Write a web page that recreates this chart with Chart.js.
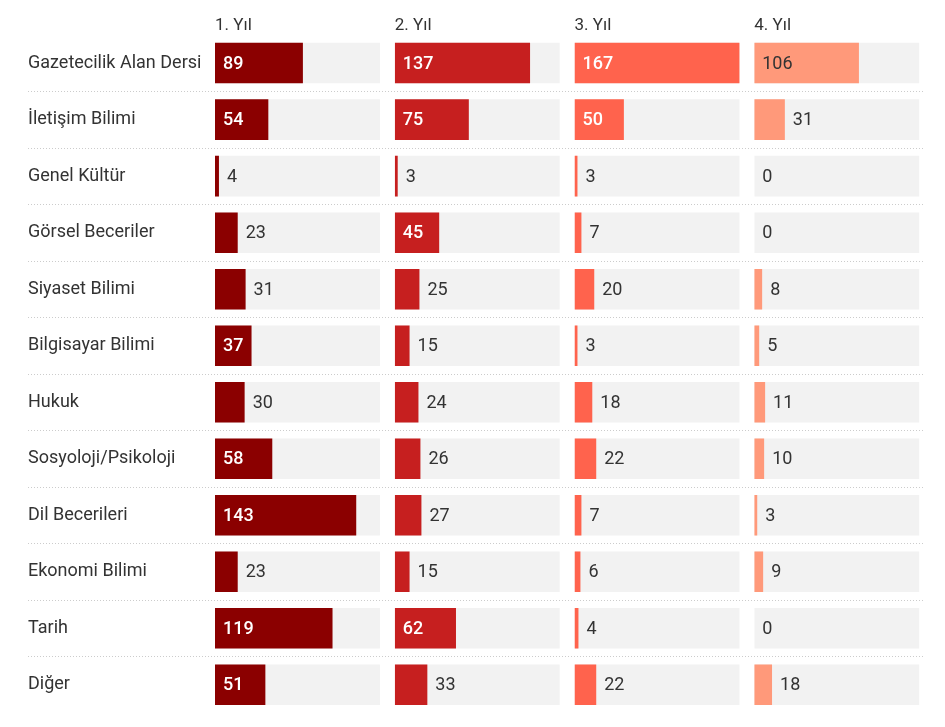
<!DOCTYPE html>
<html>
<head>
<meta charset="utf-8">
<script src="https://cdn.jsdelivr.net/npm/chart.js@4/dist/chart.umd.min.js"></script>
<style>
  html, body { margin: 0; padding: 0; background: #fff; }
  #wrap { width: 945px; height: 727px; }
</style>
</head>
<body>
<div id="wrap"><canvas id="chart"></canvas></div>
<script>
const categories = ['Gazetecilik Alan Dersi', 'İletişim Bilimi', 'Genel Kültür', 'Görsel Beceriler', 'Siyaset Bilimi', 'Bilgisayar Bilimi', 'Hukuk', 'Sosyoloji/Psikoloji', 'Dil Becerileri', 'Ekonomi Bilimi', 'Tarih', 'Diğer'];
const years = ['1. Yıl', '2. Yıl', '3. Yıl', '4. Yıl'];
const year1 = [89, 54, 4, 23, 31, 37, 30, 58, 143, 23, 119, 51];
const year2 = [137, 75, 3, 45, 25, 15, 24, 26, 27, 15, 62, 33];
const year3 = [167, 50, 3, 7, 20, 3, 18, 22, 7, 6, 4, 22];
const year4 = [106, 31, 0, 0, 8, 5, 11, 10, 3, 9, 0, 18];

const series = [year1, year2, year3, year4];
const colors = ['#8b0000', '#c61f1f', '#ff634d', '#ff997a'];
const insideColors = ['#fff', '#fff', '#fff', '#333'];
const fullValue = Math.max(...series.flat());

Chart.defaults.font.family = 'Roboto';
Chart.defaults.color = '#333';

const datasets = [];
series.forEach((vals, i) => {
  datasets.push({
    data: vals,
    xAxisID: 'x' + (i + 1),
    backgroundColor: colors[i],
    labelInside: insideColors[i],
    isValue: true,
    order: 1
  });
  datasets.push({
    data: categories.map(() => fullValue),
    xAxisID: 'x' + (i + 1),
    backgroundColor: '#f2f2f2',
    order: 2
  });
});

const scales = {
  y: {
    type: 'category',
    position: 'left',
    grid: { display: false },
    border: { display: false },
    ticks: { crossAlign: 'far', color: '#333', font: { size: 18 } },
    afterFit(scale) { scale.width = 187; }
  }
};
// stacked top axes are laid out last-first, so add them in reverse
for (let i = years.length - 1; i >= 0; i--) {
  scales['x' + (i + 1)] = {
    type: 'linear',
    axis: 'x',
    position: 'top',
    stack: 'cols',
    min: 0,
    max: 182,
    grid: { display: false, drawTicks: false },
    border: { display: false },
    ticks: { display: false },
    title: { display: true, text: years[i], align: 'start', color: '#333', font: { size: 17, lineHeight: 1.05 }, padding: { top: 17, bottom: 0 } }
  };
}

// dotted separators between rows
const separators = {
  id: 'separators',
  beforeDatasetsDraw(chart) {
    const { ctx, chartArea, scales: { y } } = chart;
    ctx.save();
    ctx.strokeStyle = '#cccccc';
    ctx.lineWidth = 1;
    ctx.setLineDash([1, 2]);
    for (let i = 1; i < categories.length; i++) {
      const py = Math.round((y.getPixelForValue(i - 1) + y.getPixelForValue(i)) / 2) + 0.5;
      ctx.beginPath();
      ctx.moveTo(y.left, py);
      ctx.lineTo(chartArea.right - 9, py);
      ctx.stroke();
    }
    ctx.restore();
  }
};

// value labels: inside the bar when they fit, otherwise right after it
const valueLabels = {
  id: 'valueLabels',
  afterDatasetsDraw(chart) {
    const ctx = chart.ctx;
    ctx.save();
    ctx.textBaseline = 'middle';
    ctx.textAlign = 'left';
    chart.data.datasets.forEach((ds, di) => {
      if (!ds.isValue) return;
      const meta = chart.getDatasetMeta(di);
      meta.data.forEach((bar, i) => {
        const txt = String(ds.data[i]);
        const w = bar.x - bar.base;
        ctx.font = '500 18px Roboto';
        const tw = ctx.measureText(txt).width;
        if (tw + 16 <= w) {
          ctx.fillStyle = ds.labelInside;
          if (ds.labelInside !== '#fff') ctx.font = '18px Roboto';
          ctx.fillText(txt, bar.base + 8, bar.y + 1);
        } else {
          ctx.font = '18px Roboto';
          ctx.fillStyle = '#333';
          ctx.fillText(txt, bar.x + 8, bar.y + 1);
        }
      });
    });
    ctx.restore();
  }
};

new Chart(document.getElementById('chart'), {
  type: 'bar',
  data: { labels: categories, datasets: datasets },
  options: {
    indexAxis: 'y',
    responsive: true,
    maintainAspectRatio: false,
    animation: false,
    layout: { padding: { left: 28, right: 11, top: 0, bottom: 14 } },
    datasets: {
      bar: { grouped: false, barPercentage: 1, categoryPercentage: 0.717, borderWidth: 0 }
    },
    plugins: { legend: { display: false }, tooltip: { enabled: false } },
    scales: scales
  },
  plugins: [separators, valueLabels]
});
</script>
</body>
</html>
